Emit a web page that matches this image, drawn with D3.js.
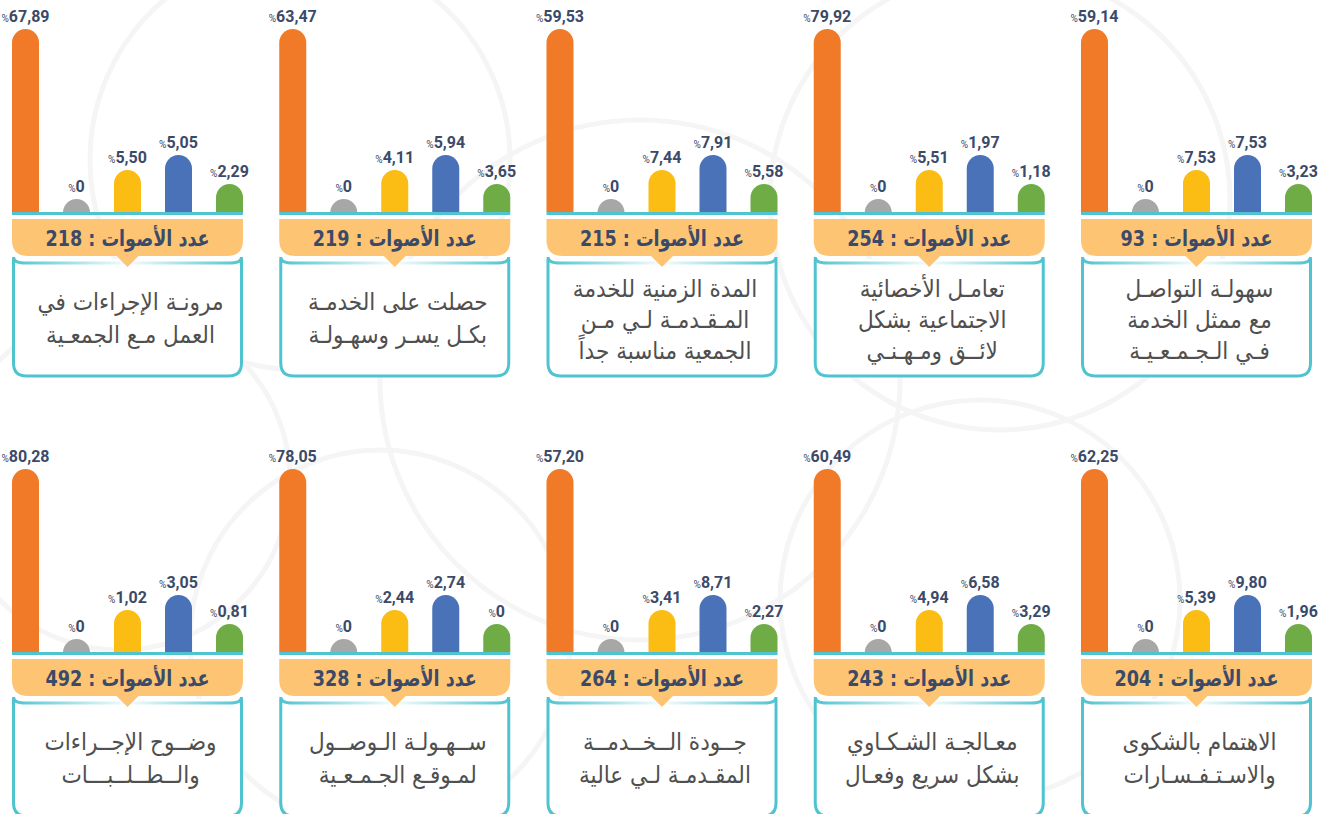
<!DOCTYPE html>
<html lang="ar">
<head>
<meta charset="utf-8">
<script src="https://cdn.jsdelivr.net/npm/d3@7"></script>
<style>
  html, body { margin: 0; padding: 0; background: #fff; }
  svg { display: block; }
  .pct-label { font-family: Roboto, "DejaVu Sans", sans-serif; fill: #3b4a68; }
  .votes { font-family: "DejaVu Sans", sans-serif; font-weight: bold; fill: #3b4a68; }
  .question { font-family: "DejaVu Sans", sans-serif; fill: #4f4f4f; }
</style>
</head>
<body>
<div id="chart"></div>
<script>
// questions in reading order (right to left, top row first)
const questions = [
  ["سهولـة التواصـل", "مع ممثل الخدمة", "فـي الـجـمـعـيـة"],
  ["تعامـل الأخصائية", "الاجتماعية بشكل", "لائــق ومـهـنـي"],
  ["المدة الزمنية للخدمة", "المـقـدمـة لـي مـن", "الجمعية مناسبة جداً"],
  ["حصلت على الخدمـة", "بكـل يسـر وسهـولـة"],
  ["مرونـة الإجراءات في", "العمل مـع الجمعـية"],
  ["الاهتمام بالشكوى", "والاسـتـفـسـارات"],
  ["معـالجـة الشـكـاوي", "بشكل سريع وفعـال"],
  ["جــودة الــخــدمــة", "المقـدمـة لـي عالية"],
  ["ســهـولـة الـوصــول", "لمـوقـع الجـمـعـية"],
  ["وضــوح الإجــراءات", "والــطــلــبـــات"]
];

const votes = [93, 254, 215, 219, 218, 204, 243, 264, 328, 492];

// answer options, same order in every panel
const answerKeys = ["a1", "a2", "a3", "a4", "a5"];

const a1Values = [59.14, 79.92, 59.53, 63.47, 67.89, 62.25, 60.49, 57.20, 78.05, 80.28];
const a2Values = [0, 0, 0, 0, 0, 0, 0, 0, 0, 0];
const a3Values = [7.53, 5.51, 7.44, 4.11, 5.50, 5.39, 4.94, 3.41, 2.44, 1.02];
const a4Values = [7.53, 1.97, 7.91, 5.94, 5.05, 9.80, 6.58, 8.71, 2.74, 3.05];
const a5Values = [3.23, 1.18, 5.58, 3.65, 2.29, 1.96, 3.29, 2.27, 0, 0.81];

const width = 1335, height = 814;
const colors = ["#f07a28", "#a7a7a7", "#fbbd14", "#4a72b8", "#6fac46"];
const teal = "#4fc4d0";
const bannerFill = "#fdc573";

const panels = questions.map((q, i) => ({
  lines: q,
  votes: votes[i],
  values: [a1Values[i], a2Values[i], a3Values[i], a4Values[i], a5Values[i]]
}));

const svg = d3.select("#chart").append("svg")
  .attr("width", width).attr("height", height);

const defs = svg.append("defs");
const grad = defs.append("linearGradient").attr("id", "topFade");
grad.append("stop").attr("offset", "0%").attr("stop-color", teal).attr("stop-opacity", 1);
grad.append("stop").attr("offset", "50%").attr("stop-color", teal).attr("stop-opacity", 0.05);
grad.append("stop").attr("offset", "100%").attr("stop-color", teal).attr("stop-opacity", 1);

// faint ornamental background
const bg = svg.append("g").attr("fill", "none").attr("stroke", "#f5f5f5").attr("stroke-width", 5);
[[300, 160, 210], [640, 380, 260], [1000, 200, 230], [980, 600, 200], [380, 640, 190], [120, 480, 170]]
  .forEach(([cx, cy, r]) => bg.append("circle").attr("cx", cx).attr("cy", cy).attr("r", r));

// panel grid: RTL columns, two rows
const col = d3.scaleBand().domain(d3.range(5)).range([1312, 12]).paddingInner(0.1356);
const row = d3.scalePoint().domain([0, 1]).range([0, 440]);

const panelW = col.bandwidth();
const x = d3.scaleBand().domain(answerKeys).range([0, panelW]).paddingInner(0.4706);
// the design uses a fixed pillar height for each answer option
const pillar = d3.scaleOrdinal().domain(answerKeys).range([183, 13, 42, 57, 28]);
const color = d3.scaleOrdinal().domain(answerKeys).range(colors);

const baseY = 212;
const fmt = v => v === 0 ? "0" : d3.format(".2f")(v).replace(".", ",");

function pillarPath(x0, w, h) {
  const r = w / 2;
  const p = d3.path();
  p.moveTo(x0, baseY);
  p.lineTo(x0, baseY - h + r);
  p.arc(x0 + r, baseY - h + r, r, Math.PI, 0);
  p.lineTo(x0 + w, baseY);
  p.closePath();
  return p.toString();
}

const g = svg.selectAll("g.panel").data(panels).join("g")
  .attr("class", "panel")
  .attr("transform", (d, i) => `translate(${col(i % 5)},${row(Math.floor(i / 5))})`);

// question box
const bl = 1.5, br = panelW - 1.5;
g.append("path")
  .attr("fill", "#fff").attr("stroke", teal).attr("stroke-width", 3)
  .attr("d", () => {
    const t = 259, b = 376, rr = 13;
    return `M${bl},${t} L${bl},${b - rr} Q${bl},${b} ${bl + rr},${b} L${br - rr},${b} Q${br},${b} ${br},${b - rr} L${br},${t}`;
  });
g.append("path")
  .attr("fill", "none").attr("stroke", "url(#topFade)").attr("stroke-width", 3)
  .attr("d", () => {
    const t = 263;
    return `M${bl},${t - 6} Q${bl},${t} ${bl + 12},${t} L${br - 12},${t} Q${br},${t} ${br},${t - 6}`;
  });

// votes banner
g.append("path")
  .attr("fill", bannerFill)
  .attr("d", () => {
    const l = 0, r = panelW, t = 219, b = 256, rr = 16;
    return `M${l},${t} L${r},${t} L${r},${b - rr} Q${r},${b} ${r - rr},${b} L${l + rr},${b} Q${l},${b} ${l},${b - rr} Z`;
  });
g.append("path")
  .attr("fill", bannerFill)
  .attr("d", `M${panelW / 2 - 12},255 L${panelW / 2 + 12},255 L${panelW / 2},267 Z`);
g.append("text")
  .attr("class", "votes")
  .attr("transform", `translate(${panelW / 2},246) scale(0.8,1)`)
  .attr("text-anchor", "middle").attr("direction", "rtl")
  .attr("font-size", 22)
  .text(d => `عدد الأصوات : ${d.votes}`);

// baseline
g.append("rect")
  .attr("x", 0).attr("y", baseY).attr("width", panelW).attr("height", 3)
  .attr("fill", teal);

// pillars
const bars = g.selectAll("g.bar")
  .data(d => answerKeys.map((k, j) => ({ key: k, value: d.values[j] })))
  .join("g").attr("class", "bar");

bars.append("path")
  .attr("fill", d => color(d.key))
  .attr("d", d => pillarPath(x(d.key), x.bandwidth(), pillar(d.key)));

const lbl = bars.append("text")
  .attr("class", "pct-label")
  .attr("x", d => x(d.key) + x.bandwidth() / 2)
  .attr("y", d => baseY - pillar(d.key) - 7)
  .attr("text-anchor", "middle");
lbl.append("tspan").attr("font-size", 10).text("%");
lbl.append("tspan").attr("font-size", 16).attr("font-weight", "bold").text(d => fmt(d.value));

// question text
g.each(function(d) {
  const n = d.lines.length;
  const y0 = n === 3 ? 297 : 310;
  const step = n === 3 ? 31 : 33;
  d3.select(this).selectAll("text.question").data(d.lines).join("text")
    .attr("class", "question")
    .attr("transform", (t, k) => `translate(${panelW / 2 + 3},${y0 + k * step}) scale(0.9,1)`)
    .attr("text-anchor", "middle").attr("direction", "rtl")
    .attr("font-size", 24)
    .text(t => t);
});
</script>
</body>
</html>
